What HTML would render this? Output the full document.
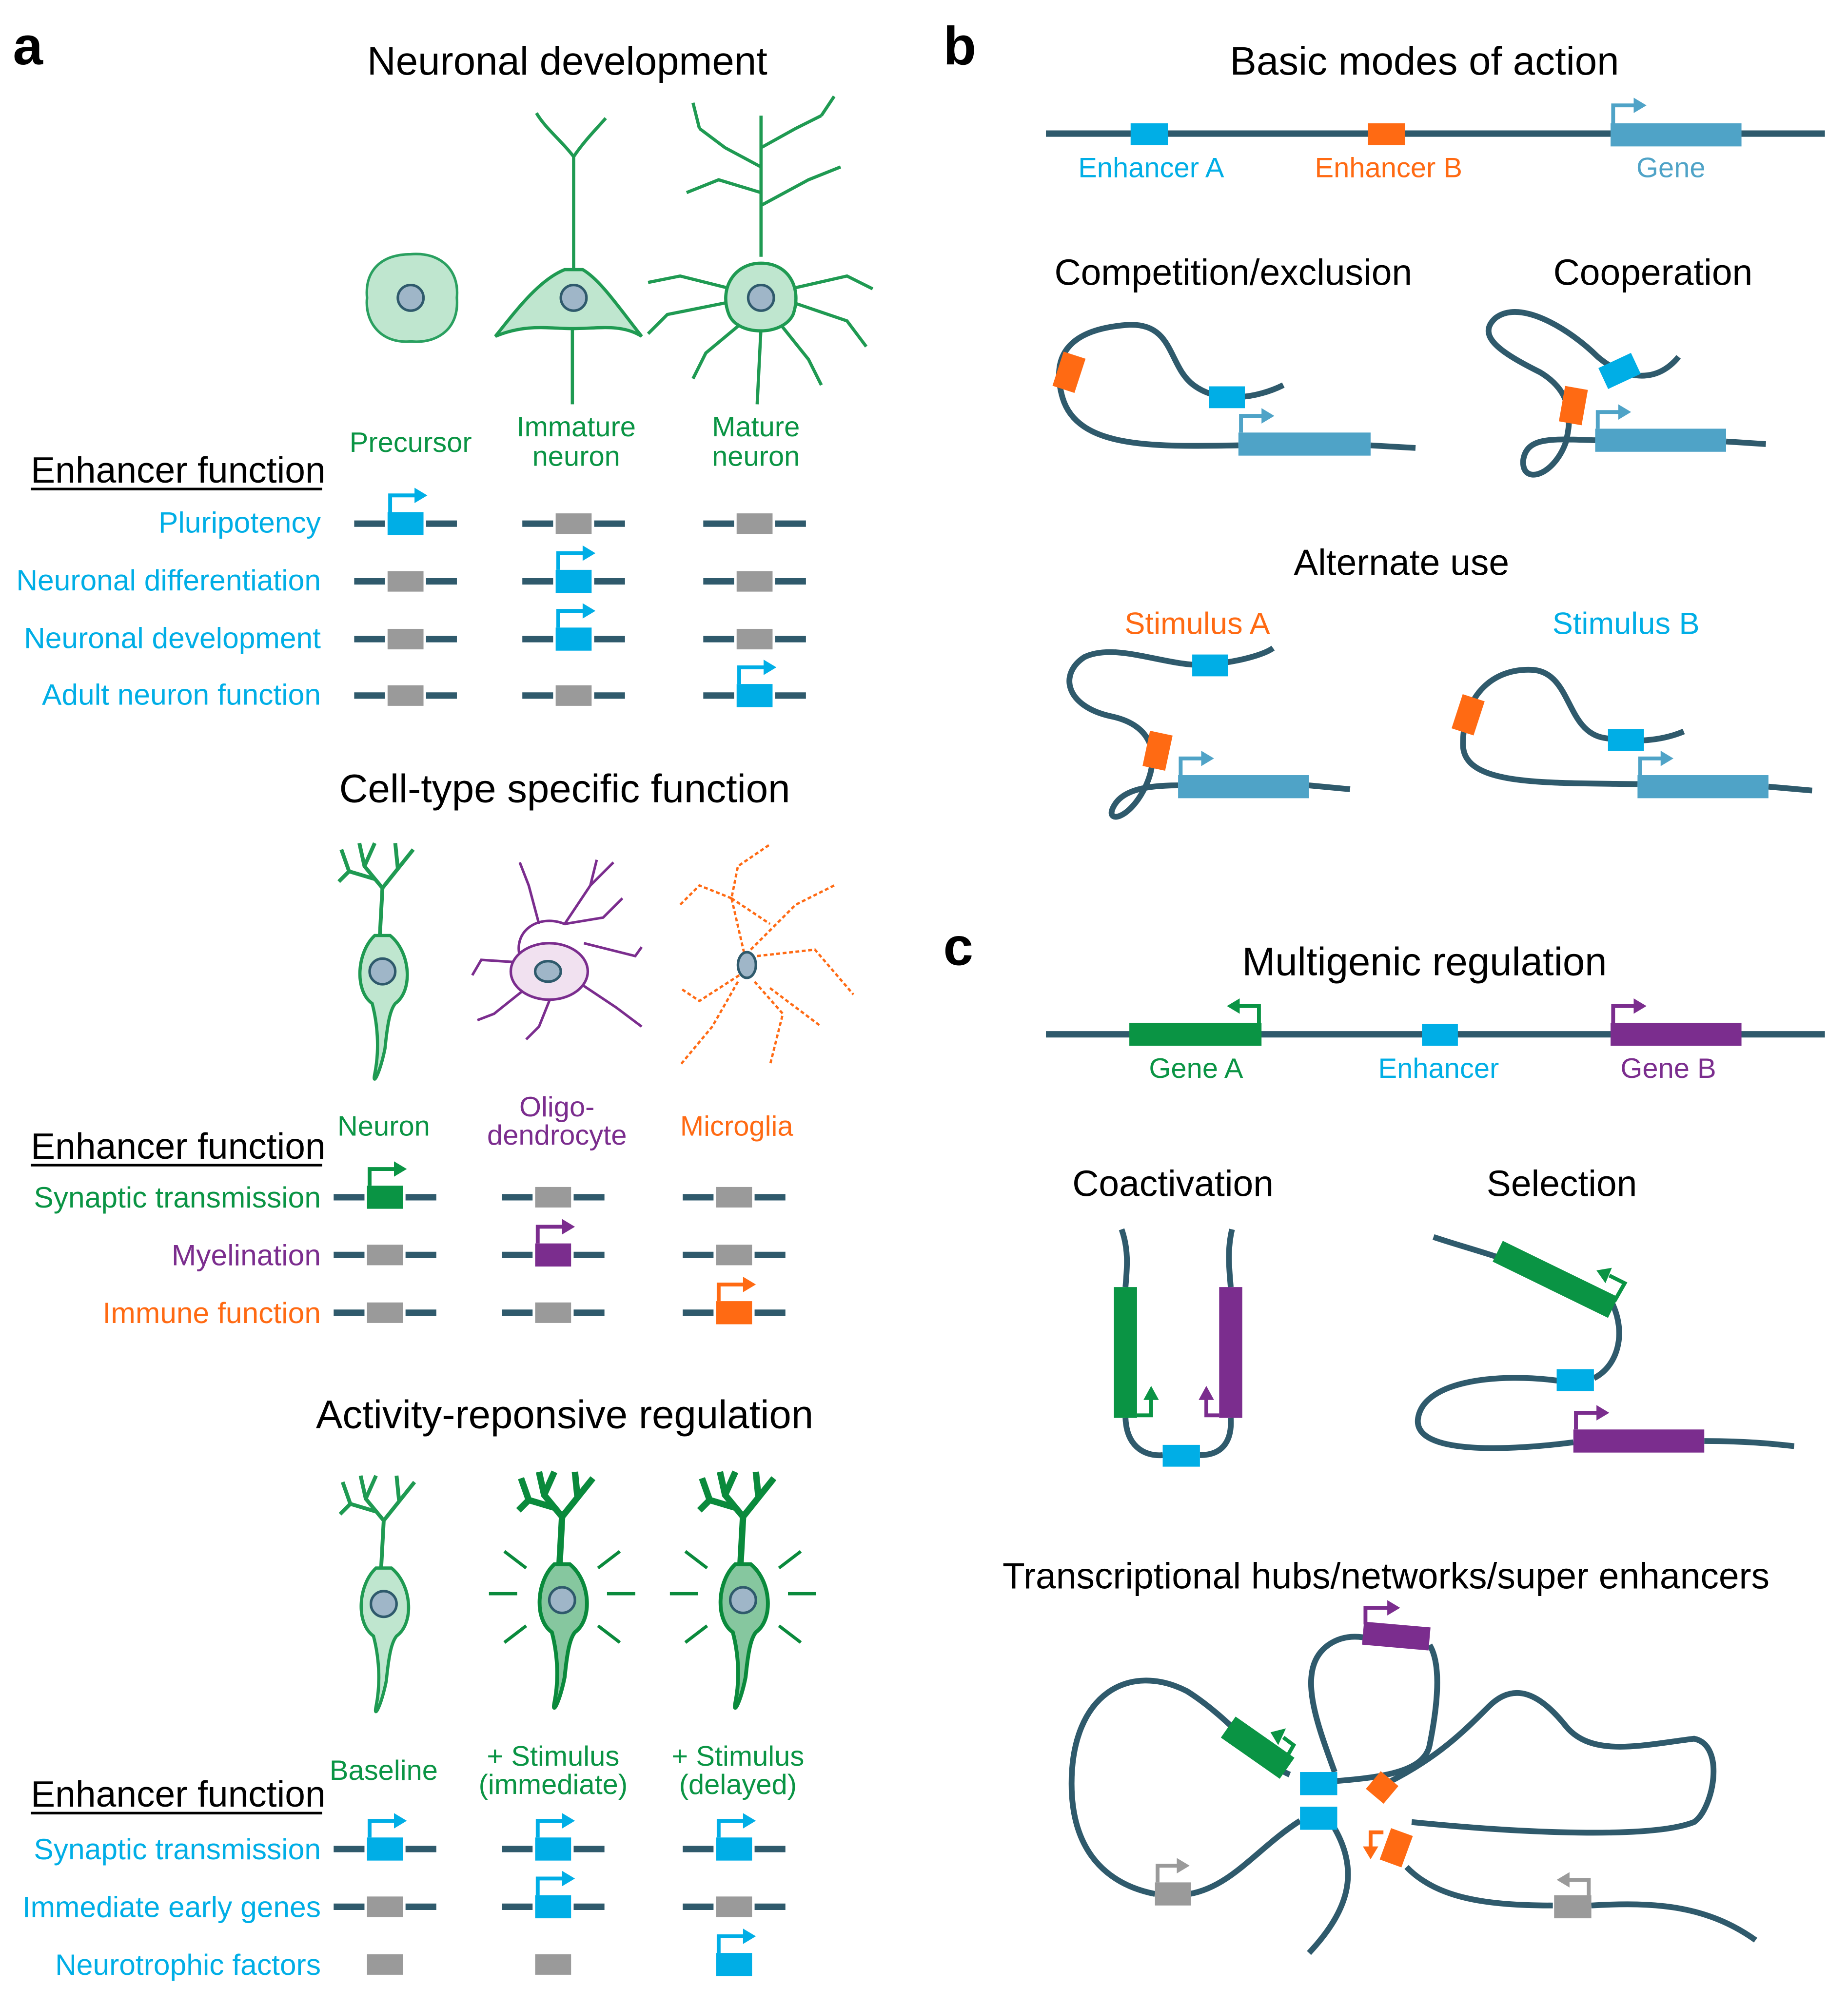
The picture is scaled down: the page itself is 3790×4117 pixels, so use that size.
<!DOCTYPE html>
<html><head><meta charset="utf-8"><style>
html,body{margin:0;padding:0;background:#fff}
svg{display:block}
text{font-family:"Liberation Sans",sans-serif}
</style></head><body>
<svg width="3790" height="4117" viewBox="0 0 1440 1564" xmlns="http://www.w3.org/2000/svg">
<defs>
<g id="off"><line x1="-40" y1="0" x2="-16" y2="0" stroke="#2f5a6c" stroke-width="5"/><line x1="16" y1="0" x2="40" y2="0" stroke="#2f5a6c" stroke-width="5"/><rect x="-14" y="-8" width="28" height="16" fill="#9a9a9a"/></g>
<g id="offb"><rect x="-14" y="-8" width="28" height="16" fill="#9a9a9a"/></g>
<g id="arr"><path d="M-12,-9 V-22 H8" fill="none" stroke-width="3"/><polygon points="7,-28 17,-22 7,-16" stroke="none"/></g>
<g id="onc" fill="#00aee6" stroke="#00aee6"><line x1="-40" y1="0" x2="-16" y2="0" stroke="#2f5a6c" stroke-width="5"/><line x1="16" y1="0" x2="40" y2="0" stroke="#2f5a6c" stroke-width="5"/><rect x="-14" y="-9" width="28" height="18" stroke="none"/><use href="#arr"/></g>
<g id="oncb" fill="#00aee6" stroke="#00aee6"><rect x="-14" y="-9" width="28" height="18" stroke="none"/><use href="#arr"/></g>
<g id="ong" fill="#0a9444" stroke="#0a9444"><line x1="-40" y1="0" x2="-16" y2="0" stroke="#2f5a6c" stroke-width="5"/><line x1="16" y1="0" x2="40" y2="0" stroke="#2f5a6c" stroke-width="5"/><rect x="-14" y="-9" width="28" height="18" stroke="none"/><use href="#arr"/></g>
<g id="onp" fill="#7b2d8e" stroke="#7b2d8e"><line x1="-40" y1="0" x2="-16" y2="0" stroke="#2f5a6c" stroke-width="5"/><line x1="16" y1="0" x2="40" y2="0" stroke="#2f5a6c" stroke-width="5"/><rect x="-14" y="-9" width="28" height="18" stroke="none"/><use href="#arr"/></g>
<g id="ono" fill="#ff6a13" stroke="#ff6a13"><line x1="-40" y1="0" x2="-16" y2="0" stroke="#2f5a6c" stroke-width="5"/><line x1="16" y1="0" x2="40" y2="0" stroke="#2f5a6c" stroke-width="5"/><rect x="-14" y="-9" width="28" height="18" stroke="none"/><use href="#arr"/></g>
<path id="dend" d="M-2,-28 L0,-65 M0,-65 L-14,-82 L-18,-100 M-14,-82 L-6,-100 M0,-65 L12,-80 L10,-100 M12,-80 L24,-95 M-6,-72 L-26,-78 L-32,-95 M-26,-78 L-34,-70" fill="none"/>
<g id="nrn"><use href="#dend" stroke="#1f9a52" stroke-width="3"/><path d="M-6,-28 C-20,-15 -22,15 -8,25 C-4,40 -2,60 -6,80 C-8,90 -2,80 2,60 C4,40 6,30 10,25 C24,15 22,-15 6,-28 Z" fill="#bfe6cf" stroke="#1f9a52" stroke-width="2.5"/><circle cx="0" cy="0" r="10" fill="#9fb6c8" stroke="#2f5a6c" stroke-width="2"/></g>
<g id="nrnS"><use href="#dend" stroke="#0a8a3c" stroke-width="5"/><path d="M-6,-28 C-20,-15 -22,15 -8,25 C-4,40 -2,60 -6,80 C-8,90 -2,80 2,60 C4,40 6,30 10,25 C24,15 22,-15 6,-28 Z" fill="#86c79f" stroke="#0a8a3c" stroke-width="3"/><circle cx="0" cy="0" r="10" fill="#9fb6c8" stroke="#2f5a6c" stroke-width="2"/><path d="M-35,-5 H-57 M35,-5 H57 M-28,-25 L-45,-38 M28,-25 L45,-38 M-28,20 L-45,33 M28,20 L45,33" stroke="#0a8a3c" stroke-width="2.5"/></g>
</defs>

<!-- PANEL A -->
<text x="10" y="50" font-size="42" font-weight="bold">a</text>
<text x="442" y="58" font-size="31" text-anchor="middle">Neuronal development</text>
<path d="M320,198 C345,196 358,212 356,232 C358,255 342,268 320,266 C298,268 284,252 286,232 C284,210 298,198 320,198 Z" fill="#bfe6cf" stroke="#2aa060" stroke-width="2"/>
<circle cx="320" cy="232" r="10" fill="#9fb6c8" stroke="#2f5a6c" stroke-width="2"/>
<!-- immature -->
<path d="M447,122 L447,212 M447,122 C455,110 465,100 472,92 M447,122 C438,110 425,100 418,88 M446,255 L446,315" stroke="#1f9a52" stroke-width="2.5" fill="none"/>
<path d="M440,210 C420,218 402,242 386,262 C410,252 428,256 446,256 C466,256 484,252 500,262 C484,242 468,218 454,210 Z" fill="#bfe6cf" stroke="#1f9a52" stroke-width="2.5"/>
<circle cx="447" cy="232" r="10" fill="#9fb6c8" stroke="#2f5a6c" stroke-width="2"/>
<!-- mature -->
<g stroke="#1f9a52" stroke-width="2.5" fill="none">
<path d="M593,200 L593,90 M593,130 L565,115 L545,100 M593,115 L620,100 L640,90 M593,150 L560,140 L535,150 M593,160 L630,140 L655,130 M570,225 L530,215 L505,220 M570,235 L520,245 L505,260 M616,225 L660,215 L680,225 M616,235 L660,250 L675,270 M580,250 L550,275 L540,295 M606,250 L630,280 L640,300 M593,255 L590,315 M545,100 L540,80 M640,90 L650,75"/>
</g>
<path d="M593,205 C615,205 625,225 618,245 C610,262 575,262 568,245 C560,225 572,205 593,205 Z" fill="#bfe6cf" stroke="#1f9a52" stroke-width="2.5"/>
<circle cx="593" cy="232" r="10" fill="#9fb6c8" stroke="#2f5a6c" stroke-width="2"/>

<g font-size="22" fill="#0a9444" text-anchor="middle">
<text x="320" y="352">Precursor</text>
<text x="449" y="340">Immature</text><text x="449" y="363">neuron</text>
<text x="589" y="340">Mature</text><text x="589" y="363">neuron</text>
</g>
<text x="24" y="376" font-size="28.5">Enhancer function</text><line x1="24" y1="381" x2="251" y2="381" stroke="#000" stroke-width="2"/>
<g font-size="23" fill="#00aee6" text-anchor="end">
<text x="250" y="415">Pluripotency</text><text x="250" y="460">Neuronal differentiation</text>
<text x="250" y="505">Neuronal development</text><text x="250" y="549">Adult neuron function</text>
</g>
<use href="#onc" x="316" y="408"/><use href="#off" x="447" y="408"/><use href="#off" x="588" y="408"/>
<use href="#off" x="316" y="453"/><use href="#onc" x="447" y="453"/><use href="#off" x="588" y="453"/>
<use href="#off" x="316" y="498"/><use href="#onc" x="447" y="498"/><use href="#off" x="588" y="498"/>
<use href="#off" x="316" y="542"/><use href="#off" x="447" y="542"/><use href="#onc" x="588" y="542"/>

<text x="440" y="625" font-size="31" text-anchor="middle">Cell-type specific function</text>
<use href="#nrn" x="298" y="757"/>
<g stroke="#7b2d8e" stroke-width="2" fill="#f1e1f0">
<path d="M405,745 C400,725 420,712 440,720 L460,690 L465,670 M460,690 L478,672 M440,720 L470,715 L485,700 M455,735 L495,745 L500,738 M450,765 L480,785 L500,800 M430,775 L420,800 L410,810 M410,770 L385,790 L372,795 M405,750 L375,748 L368,760 M420,720 L412,690 L405,672" fill="none"/>
<ellipse cx="428" cy="757" rx="30" ry="22"/>
</g>
<ellipse cx="427" cy="757" rx="10" ry="8" fill="#9fb6c8" stroke="#2f5a6c" stroke-width="2"/>
<g stroke="#ff6a13" stroke-width="1.8" fill="none">
<path d="M582,752 L570,700 L575,675 L600,658 M570,700 L545,690 L530,705 M585,740 L620,705 L650,690 M590,745 L635,740 L665,775 M588,765 L610,790 L600,830 M575,765 L555,800 L530,830 M576,760 L545,780 L530,770 M600,770 L640,800 M570,700 L600,720" stroke-dasharray="3 2"/>
</g>
<ellipse cx="582" cy="752" rx="7" ry="10" fill="#9fb6c8" stroke="#2f5a6c" stroke-width="2"/>
<g font-size="22" text-anchor="middle">
<text x="299" y="885" fill="#0a9444">Neuron</text>
<text x="434" y="870" fill="#7b2d8e">Oligo-</text><text x="434" y="892" fill="#7b2d8e">dendrocyte</text>
<text x="574" y="885" fill="#ff6a13">Microglia</text>
</g>
<text x="24" y="903" font-size="28.5">Enhancer function</text><line x1="24" y1="908" x2="251" y2="908" stroke="#000" stroke-width="2"/>
<g font-size="23" text-anchor="end">
<text x="250" y="941" fill="#0a9444">Synaptic transmission</text>
<text x="250" y="986" fill="#7b2d8e">Myelination</text>
<text x="250" y="1031" fill="#ff6a13">Immune function</text>
</g>
<use href="#ong" x="300" y="933"/><use href="#off" x="431" y="933"/><use href="#off" x="572" y="933"/>
<use href="#off" x="300" y="978"/><use href="#onp" x="431" y="978"/><use href="#off" x="572" y="978"/>
<use href="#off" x="300" y="1023"/><use href="#off" x="431" y="1023"/><use href="#ono" x="572" y="1023"/>

<text x="440" y="1113" font-size="31" text-anchor="middle">Activity-reponsive regulation</text>
<use href="#nrn" x="299" y="1250"/><use href="#nrnS" x="438" y="1247"/><use href="#nrnS" x="579" y="1247"/>
<g font-size="22" fill="#0a9444" text-anchor="middle">
<text x="299" y="1387">Baseline</text>
<text x="431" y="1376">+ Stimulus</text><text x="431" y="1398">(immediate)</text>
<text x="575" y="1376">+ Stimulus</text><text x="575" y="1398">(delayed)</text>
</g>
<text x="24" y="1408" font-size="28.5">Enhancer function</text><line x1="24" y1="1413" x2="251" y2="1413" stroke="#000" stroke-width="2"/>
<g font-size="23" fill="#00aee6" text-anchor="end">
<text x="250" y="1449">Synaptic transmission</text><text x="250" y="1494">Immediate early genes</text><text x="250" y="1539">Neurotrophic factors</text>
</g>
<use href="#onc" x="300" y="1441"/><use href="#onc" x="431" y="1441"/><use href="#onc" x="572" y="1441"/>
<use href="#off" x="300" y="1486"/><use href="#onc" x="431" y="1486"/><use href="#off" x="572" y="1486"/>
<use href="#offb" x="300" y="1531"/><use href="#offb" x="431" y="1531"/><use href="#oncb" x="572" y="1531"/>

<!-- PANEL B -->
<text x="735" y="50" font-size="42" font-weight="bold">b</text>
<text x="1110" y="58" font-size="31" text-anchor="middle">Basic modes of action</text>
<line x1="815" y1="104" x2="1422" y2="104" stroke="#2f5a6c" stroke-width="5"/>
<rect x="881" y="96" width="29" height="17" fill="#00aee6"/>
<rect x="1066" y="96" width="29" height="17" fill="#ff6a13"/>
<rect x="1255" y="96" width="102" height="18" fill="#4fa3c7"/>
<g fill="#4fa3c7" stroke="#4fa3c7"><path d="M1257,96 V82 H1274" fill="none" stroke-width="3"/><polygon points="1273,76 1283,82 1273,88" stroke="none"/></g>
<g font-size="22" text-anchor="middle"><text x="897" y="138" fill="#00aee6">Enhancer A</text><text x="1082" y="138" fill="#ff6a13">Enhancer B</text><text x="1302" y="138" fill="#4fa3c7">Gene</text></g>

<text x="961" y="222" font-size="28.5" text-anchor="middle">Competition/exclusion</text>
<text x="1288" y="222" font-size="28.5" text-anchor="middle">Cooperation</text>
<g stroke="#2f5a6c" stroke-width="4.5" fill="none">
<path d="M1103,349 L1068,347 M965,347 C900,348 840,350 828,310 C815,265 850,255 880,253 C915,252 910,285 930,300 C950,315 980,310 1000,300"/>
<path d="M1376,346 L1345,344 M1243,343 C1210,342 1190,340 1187,358 C1185,378 1210,372 1220,345 C1225,325 1225,305 1200,290 C1170,275 1150,262 1165,248 C1185,232 1225,258 1245,278 C1265,295 1290,300 1308,278"/>
<path d="M1052,615 L1020,612 M918,612 C895,612 875,615 868,628 C860,642 880,640 893,612 C903,590 900,565 865,558 C830,550 825,525 845,512 C870,500 910,520 940,518 C965,516 985,510 992,505"/>
<path d="M1412,616 L1378,613 M1276,611 C1200,610 1140,612 1140,580 C1140,540 1165,520 1195,522 C1225,525 1220,570 1250,575 C1280,580 1300,575 1312,570"/>
</g>
<rect x="965" y="337" width="103" height="18" fill="#4fa3c7"/>
<g fill="#4fa3c7" stroke="#4fa3c7"><path d="M967,337 V324 H984" fill="none" stroke-width="3"/><polygon points="983,318 993,324 983,330" stroke="none"/></g>
<rect x="942" y="301" width="28" height="17" fill="#00aee6"/>
<rect x="-9" y="-14" width="18" height="28" fill="#ff6a13" transform="translate(833,290) rotate(18)"/>
<rect x="1243" y="334" width="102" height="18" fill="#4fa3c7"/>
<g fill="#4fa3c7" stroke="#4fa3c7"><path d="M1245,334 V321 H1262" fill="none" stroke-width="3"/><polygon points="1261,315 1271,321 1261,327" stroke="none"/></g>
<rect x="-14" y="-9" width="28" height="18" fill="#00aee6" transform="translate(1262,289) rotate(-25)"/>
<rect x="-9" y="-14" width="18" height="28" fill="#ff6a13" transform="translate(1226,316) rotate(10)"/>

<text x="1092" y="448" font-size="28.5" text-anchor="middle">Alternate use</text>
<text x="933" y="494" font-size="24" fill="#ff6a13" text-anchor="middle">Stimulus A</text>
<text x="1267" y="494" font-size="24" fill="#00aee6" text-anchor="middle">Stimulus B</text>
<rect x="918" y="604" width="102" height="18" fill="#4fa3c7"/>
<g fill="#4fa3c7" stroke="#4fa3c7"><path d="M920,604 V591 H937" fill="none" stroke-width="3"/><polygon points="936,585 946,591 936,597" stroke="none"/></g>
<rect x="929" y="510" width="28" height="17" fill="#00aee6"/>
<rect x="-9" y="-14" width="18" height="28" fill="#ff6a13" transform="translate(902,585) rotate(12)"/>
<rect x="1276" y="604" width="102" height="18" fill="#4fa3c7"/>
<g fill="#4fa3c7" stroke="#4fa3c7"><path d="M1278,604 V591 H1295" fill="none" stroke-width="3"/><polygon points="1294,585 1304,591 1294,597" stroke="none"/></g>
<rect x="1253" y="568" width="28" height="17" fill="#00aee6"/>
<rect x="-9" y="-14" width="18" height="28" fill="#ff6a13" transform="translate(1144,557) rotate(18)"/>

<!-- PANEL C -->
<text x="735" y="752" font-size="42" font-weight="bold">c</text>
<text x="1110" y="760" font-size="31" text-anchor="middle">Multigenic regulation</text>
<line x1="815" y1="806" x2="1422" y2="806" stroke="#2f5a6c" stroke-width="5"/>
<rect x="880" y="797" width="103" height="18" fill="#0a9444"/>
<g fill="#0a9444" stroke="#0a9444"><path d="M981,797 V784 H965" fill="none" stroke-width="3"/><polygon points="966,778 956,784 966,790" stroke="none"/></g>
<rect x="1108" y="798" width="28" height="17" fill="#00aee6"/>
<rect x="1255" y="797" width="102" height="18" fill="#7b2d8e"/>
<g fill="#7b2d8e" stroke="#7b2d8e"><path d="M1257,797 V784 H1274" fill="none" stroke-width="3"/><polygon points="1273,778 1283,784 1273,790" stroke="none"/></g>
<g font-size="22" text-anchor="middle"><text x="932" y="840" fill="#0a9444">Gene A</text><text x="1121" y="840" fill="#00aee6">Enhancer</text><text x="1300" y="840" fill="#7b2d8e">Gene B</text></g>

<text x="914" y="932" font-size="28.5" text-anchor="middle">Coactivation</text>
<text x="1217" y="932" font-size="28.5" text-anchor="middle">Selection</text>
<g stroke="#2f5a6c" stroke-width="4.5" fill="none">
<path d="M874,958 C880,975 878,990 877,1003 M960,958 C956,975 958,990 959,1003 M877,1105 C878,1130 895,1135 906,1134 M935,1134 C955,1134 960,1120 959,1105"/>
<path d="M1117,964 C1135,970 1150,974 1168,980 M1256,1015 C1268,1040 1260,1065 1242,1074 M1214,1076 C1170,1070 1110,1075 1105,1105 C1100,1135 1180,1130 1226,1124 M1328,1123 C1360,1123 1380,1125 1398,1127"/>
<path d="M1005,1383 C985,1375 960,1340 925,1318 C880,1295 835,1320 835,1390 C835,1450 870,1470 900,1476 M927,1476 C960,1470 980,1440 1013,1419"/>
<path d="M1040,1381 C1025,1340 1010,1300 1035,1282 C1045,1275 1055,1275 1062,1276 M1114,1282 C1125,1300 1118,1340 1114,1360 C1110,1380 1080,1385 1041,1388"/>
<path d="M1080,1390 C1120,1370 1140,1350 1160,1330 C1180,1310 1200,1320 1220,1345 C1240,1370 1280,1360 1320,1355 C1345,1360 1335,1410 1320,1420 C1290,1432 1200,1430 1100,1420 M1096,1455 C1120,1480 1160,1485 1210,1485 M1240,1485 C1290,1482 1330,1485 1368,1512"/>
<path d="M1040,1425 C1060,1460 1050,1490 1020,1522"/>
</g>
<rect x="868" y="1003" width="18" height="102" fill="#0a9444"/>
<rect x="950" y="1003" width="18" height="102" fill="#7b2d8e"/>
<g fill="#0a9444" stroke="#0a9444"><path d="M886,1103 H897 V1090" fill="none" stroke-width="3"/><polygon points="891,1091 897,1080 903,1091" stroke="none"/></g>
<g fill="#7b2d8e" stroke="#7b2d8e"><path d="M950,1103 H940 V1090" fill="none" stroke-width="3"/><polygon points="934,1091 940,1080 946,1091" stroke="none"/></g>
<rect x="906" y="1126" width="29" height="17" fill="#00aee6"/>
<rect x="-50" y="-9" width="100" height="18" fill="#0a9444" transform="translate(1212,997) rotate(26)"/>
<g fill="#0a9444" stroke="#0a9444"><path d="M1258,1014 L1266,1000 L1254,994" fill="none" stroke-width="3"/><polygon points="1256,988 1244,990 1251,1000" stroke="none"/></g>
<rect x="1213" y="1067" width="29" height="17" fill="#00aee6"/>
<rect x="1226" y="1114" width="102" height="18" fill="#7b2d8e"/>
<g fill="#7b2d8e" stroke="#7b2d8e"><path d="M1228,1114 V1101 H1245" fill="none" stroke-width="3"/><polygon points="1244,1095 1254,1101 1244,1107" stroke="none"/></g>

<text x="1080" y="1238" font-size="28.5" text-anchor="middle">Transcriptional hubs/networks/super enhancers</text>
<rect x="-26" y="-9" width="52" height="18" fill="#7b2d8e" transform="translate(1088,1275) rotate(5)"/>
<g fill="#7b2d8e" stroke="#7b2d8e"><path d="M1064,1266 V1253 H1082" fill="none" stroke-width="3"/><polygon points="1081,1247 1091,1253 1081,1259" stroke="none"/></g>
<rect x="-28" y="-10" width="56" height="20" fill="#0a9444" transform="translate(980,1362) rotate(35)"/>
<g fill="#0a9444" stroke="#0a9444"><path d="M1000,1374 L1008,1360 L1000,1354" fill="none" stroke-width="3"/><polygon points="1002,1347 990,1350 996,1360" stroke="none"/></g>
<rect x="1013" y="1381" width="29" height="18" fill="#00aee6"/>
<rect x="1013" y="1408" width="29" height="18" fill="#00aee6"/>
<rect x="-9" y="-9" width="18" height="18" fill="#ff6a13" transform="translate(1077,1393) rotate(40)"/>
<rect x="-9" y="-13" width="18" height="26" fill="#ff6a13" transform="translate(1088,1440) rotate(20)"/>
<g fill="#ff6a13" stroke="#ff6a13"><path d="M1078,1428 H1068 V1440" fill="none" stroke-width="3"/><polygon points="1062,1439 1068,1449 1074,1439" stroke="none"/></g>
<rect x="900" y="1467" width="28" height="18" fill="#9a9a9a"/>
<g fill="#9a9a9a" stroke="#9a9a9a"><path d="M902,1467 V1454 H918" fill="none" stroke-width="3"/><polygon points="917,1448 927,1454 917,1460" stroke="none"/></g>
<rect x="1211" y="1477" width="29" height="18" fill="#9a9a9a"/>
<g fill="#9a9a9a" stroke="#9a9a9a"><path d="M1238,1477 V1465 H1222" fill="none" stroke-width="3"/><polygon points="1223,1459 1213,1465 1223,1471" stroke="none"/></g>
</svg>
</body></html>
